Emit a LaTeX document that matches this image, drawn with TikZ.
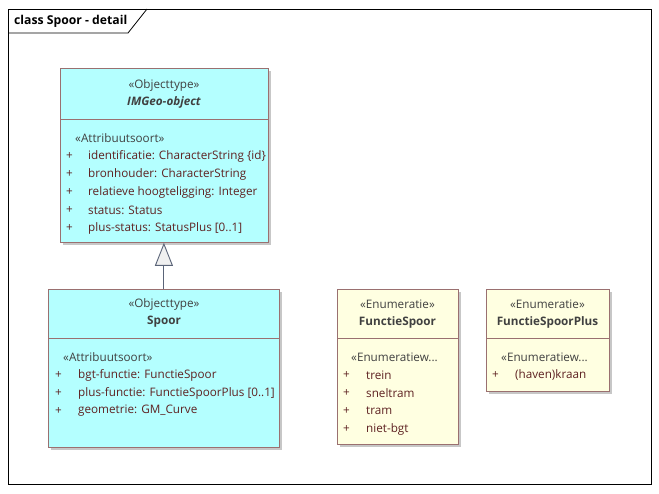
\documentclass[tikz,border=0pt]{standalone}
\usepackage{fontspec}
\setmainfont{Open Sans}
\usepackage{xcolor}
\usepackage{tikz}
\usetikzlibrary{positioning,arrows.meta,shadows}
\definecolor{ClassCyan}{HTML}{B4FFFF}
\definecolor{EnumCream}{HTML}{FFFFE1}
\definecolor{BoxBorder}{HTML}{9A7070}
\definecolor{AttrMaroon}{HTML}{5E2222}
\definecolor{StereoGrey}{HTML}{404040}
\definecolor{GenLine}{HTML}{5A6478}

\tikzset{
  umlbox/.style={draw=BoxBorder,line width=0.8pt,anchor=north west,inner sep=0pt,
    drop shadow={shadow xshift=3pt,shadow yshift=-3pt,fill=black!22,opacity=1}},
  divider/.style={draw=BoxBorder,line width=0.8pt},
  stereo/.style={text=StereoGrey,font=\fontsize{11.7}{13}\selectfont,inner sep=0pt},
  boxname/.style={text=StereoGrey,font=\fontsize{11.7}{13}\selectfont\bfseries,inner sep=0pt},
  attr/.style={text=AttrMaroon,font=\fontsize{11.7}{13}\selectfont,anchor=west,inner sep=0pt},
  gen/.style={draw=GenLine,line width=0.9pt,-{Triangle[open,width=18pt,length=23pt,fill=white!94!black]}}
}

\begin{document}
\begin{tikzpicture}[x=1pt,y=-1pt]
  \useasboundingbox[fill=white] (0,0) rectangle (659,493);
  % diagram frame
  \draw[line width=0.8pt] (8,9) rectangle (651,484);
  \draw[line width=0.8pt] (8,33) -- (128,33) -- (147,9);
  \node[anchor=west,font=\fontsize{12.2}{14}\selectfont\bfseries,inner sep=0pt] (title) at (14,21) {class Spoor - detail};

  % IMGeo-object
  \node[umlbox,fill=ClassCyan,minimum width=208pt,minimum height=174pt] (imgeo) at (60,68) {};
  \draw[divider] ([yshift=-51pt]imgeo.north west) -- ([yshift=-51pt]imgeo.north east);
  \node[stereo] (imgeo-st) at (164,85) {«Objecttype»};
  \node[boxname,font=\fontsize{11.7}{13}\selectfont\bfseries\itshape] (imgeo-nm) at (164,102) {IMGeo-object};
  \node[attr,text=StereoGrey] (imgeo-as) at (75,138) {«Attribuutsoort»};
  \foreach \i/\t in {1/{identificatie: CharacterString \{id\}},2/{bronhouder: CharacterString},3/{relatieve hoogteligging: Integer},4/{status: Status},5/{plus-status: StatusPlus [0..1]}} {
    \node[attr] (imgeo-p\i) at (66,138+18*\i) {+};
    \node[attr] (imgeo-a\i) at (88,138+18*\i) {\t};
  }

  % Spoor
  \node[umlbox,fill=ClassCyan,minimum width=231pt,minimum height=158pt] (spoor) at (48,289) {};
  \draw[divider] ([yshift=-49pt]spoor.north west) -- ([yshift=-49pt]spoor.north east);
  \node[stereo] (spoor-st) at (164,304) {«Objecttype»};
  \node[boxname] (spoor-nm) at (164,322) {Spoor};
  \node[attr,text=StereoGrey] (spoor-as) at (63,357) {«Attribuutsoort»};
  \foreach \i/\t in {1/{bgt-functie: FunctieSpoor},2/{plus-functie: FunctieSpoorPlus [0..1]},3/{geometrie: GM\_Curve}} {
    \node[attr] (spoor-p\i) at (55,357+18*\i) {+};
    \node[attr] (spoor-a\i) at (78,357+18*\i) {\t};
  }

  % FunctieSpoor
  \node[umlbox,fill=EnumCream,minimum width=121pt,minimum height=155pt] (fspoor) at (337,289) {};
  \draw[divider] ([yshift=-49pt]fspoor.north west) -- ([yshift=-49pt]fspoor.north east);
  \node[stereo] (fspoor-st) at (397.5,304) {«Enumeratie»};
  \node[boxname] (fspoor-nm) at (397.5,322) {FunctieSpoor};
  \node[attr,text=StereoGrey] (fspoor-as) at (351,357) {«Enumeratiew...};
  \foreach \i/\t in {1/trein,2/sneltram,3/tram,4/niet-bgt} {
    \node[attr] (fspoor-p\i) at (343,357+18*\i) {+};
    \node[attr] (fspoor-a\i) at (366,357+18*\i) {\t};
  }

  % FunctieSpoorPlus
  \node[umlbox,fill=EnumCream,minimum width=123pt,minimum height=102pt] (fsplus) at (486,289) {};
  \draw[divider] ([yshift=-49pt]fsplus.north west) -- ([yshift=-49pt]fsplus.north east);
  \node[stereo] (fsplus-st) at (547.5,304) {«Enumeratie»};
  \node[boxname] (fsplus-nm) at (547.5,322) {FunctieSpoorPlus};
  \node[attr,text=StereoGrey] (fsplus-as) at (501,357) {«Enumeratiew...};
  \node[attr] (fsplus-p1) at (492,375) {+};
  \node[attr] (fsplus-a1) at (515,375) {(haven)kraan};

  % generalisation
  \draw[gen] (spoor.north) -- (spoor.north |- imgeo.south);
\end{tikzpicture}
\end{document}
